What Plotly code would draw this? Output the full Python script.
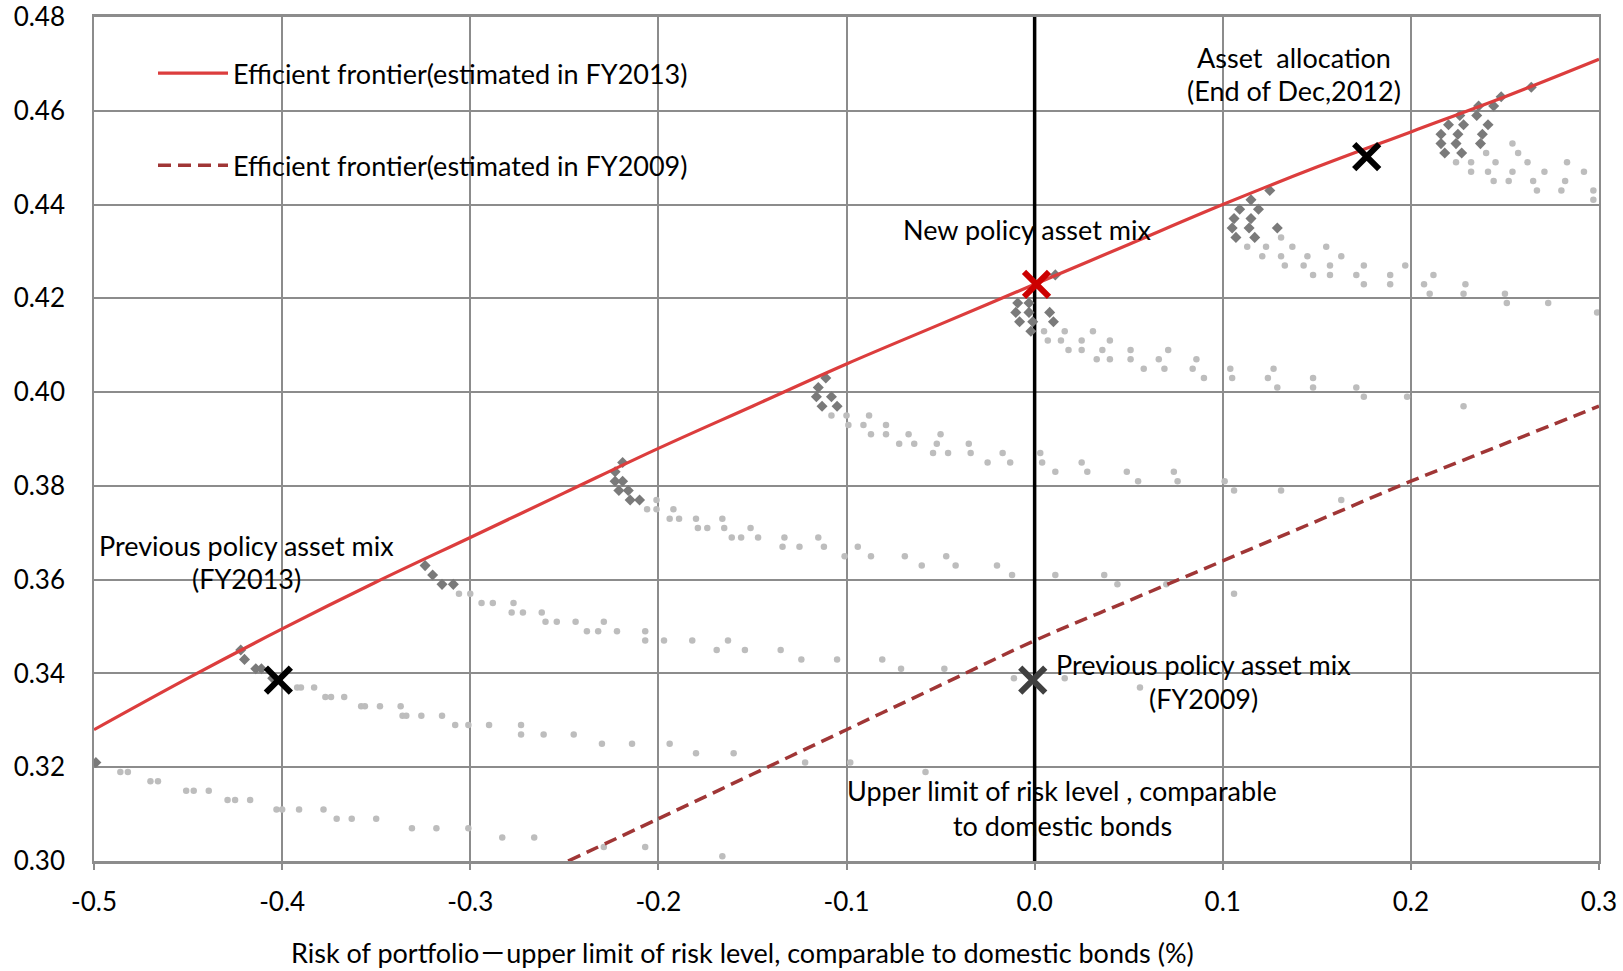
import plotly.graph_objects as go

# ---------------- data ----------------
# Efficient frontier (estimated in FY2013)
fr13_risk = [-0.50, -0.45, -0.40, -0.35, -0.30, -0.25, -0.20, -0.15, -0.10, -0.05,
             0.00, 0.05, 0.10, 0.15, 0.20, 0.25, 0.30]
fr13_ret = [0.328, 0.339, 0.3495, 0.3595, 0.369, 0.3785, 0.388, 0.397, 0.406, 0.4145,
            0.423, 0.4315, 0.440, 0.448, 0.4555, 0.463, 0.471]

# Efficient frontier (estimated in FY2009)
fr09_risk = [-0.248, -0.20, -0.15, -0.10, -0.05, 0.00, 0.05, 0.10, 0.15, 0.20, 0.25, 0.30]
fr09_ret = [0.300, 0.309, 0.3185, 0.328, 0.3375, 0.347, 0.3555, 0.364, 0.3725, 0.381, 0.389, 0.397]

# Simulated portfolios (light grey dots)
light_risk = [
    -0.486, -0.482, -0.470, -0.466, -0.451, -0.447, -0.439, -0.429, -0.425, -0.417,
    -0.403, -0.400, -0.391, -0.378, -0.371, -0.363, -0.350, -0.331, -0.318, -0.301,
    -0.283, -0.266, -0.229, -0.207, -0.166,
    -0.392, -0.390, -0.383, -0.377, -0.374, -0.367, -0.358, -0.356, -0.348, -0.337,
    -0.336, -0.334, -0.326, -0.315, -0.308, -0.301, -0.290, -0.273, -0.273, -0.261,
    -0.245, -0.230, -0.214, -0.194, -0.180, -0.160, -0.122, -0.098, -0.058,
    -0.306, -0.300, -0.294, -0.288, -0.277, -0.278, -0.272, -0.262, -0.260, -0.254,
    -0.244, -0.229, -0.238, -0.232, -0.222, -0.207, -0.207, -0.197, -0.182, -0.163,
    -0.169, -0.154, -0.135, -0.124, -0.105, -0.081, -0.071, -0.048, -0.011, 0.016, 0.056,
    -0.201, -0.206, -0.201, -0.192, -0.194, -0.189, -0.180, -0.166, -0.179, -0.174,
    -0.165, -0.151, -0.161, -0.156, -0.147, -0.133, -0.115, -0.134, -0.125, -0.112,
    -0.094, -0.101, -0.087, -0.069, -0.047, -0.060, -0.042, -0.020, -0.012, 0.011,
    0.037, 0.044, 0.070, 0.106,
    -0.108, -0.100, -0.088, -0.099, -0.091, -0.079, -0.087, -0.079, -0.067, -0.050,
    -0.072, -0.064, -0.052, -0.035, -0.054, -0.046, -0.034, -0.017, 0.003, -0.025,
    -0.013, 0.004, 0.025, 0.011, 0.028, 0.049, 0.074, 0.055, 0.076, 0.101,
    0.106, 0.131, 0.163,
    0.005, 0.016, 0.031, 0.007, 0.014, 0.025, 0.040, 0.018, 0.025, 0.036,
    0.051, 0.071, 0.033, 0.040, 0.051, 0.066, 0.086, 0.058, 0.069, 0.084,
    0.104, 0.127, 0.090, 0.105, 0.124, 0.148, 0.129, 0.148, 0.171, 0.175,
    0.198, 0.228,
    0.131, 0.113, 0.123, 0.137, 0.155, 0.121, 0.131, 0.145, 0.163, 0.133,
    0.143, 0.157, 0.175, 0.197, 0.148, 0.157, 0.171, 0.189, 0.212, 0.175,
    0.189, 0.207, 0.229, 0.210, 0.228, 0.250, 0.251, 0.273, 0.299,
    0.254, 0.240, 0.257, 0.224, 0.232, 0.245, 0.262, 0.283, 0.232, 0.241,
    0.254, 0.271, 0.292, 0.244, 0.252, 0.265, 0.282, 0.267, 0.280, 0.297, 0.297,
]
light_ret = [
    0.319, 0.319, 0.317, 0.317, 0.315, 0.315, 0.315, 0.313, 0.313, 0.313,
    0.311, 0.311, 0.311, 0.311, 0.309, 0.309, 0.309, 0.307, 0.307, 0.307,
    0.305, 0.305, 0.303, 0.303, 0.301,
    0.337, 0.337, 0.337, 0.335, 0.335, 0.335, 0.333, 0.333, 0.333, 0.333,
    0.331, 0.331, 0.331, 0.331, 0.329, 0.329, 0.329, 0.329, 0.327, 0.327,
    0.327, 0.325, 0.325, 0.325, 0.323, 0.323, 0.321, 0.321, 0.319,
    0.357, 0.357, 0.355, 0.355, 0.355, 0.353, 0.353, 0.353, 0.351, 0.351,
    0.351, 0.351, 0.349, 0.349, 0.349, 0.349, 0.347, 0.347, 0.347, 0.347,
    0.345, 0.345, 0.345, 0.343, 0.343, 0.343, 0.341, 0.341, 0.339, 0.339, 0.337,
    0.377, 0.375, 0.375, 0.375, 0.373, 0.373, 0.373, 0.373, 0.371, 0.371,
    0.371, 0.371, 0.369, 0.369, 0.369, 0.369, 0.369, 0.367, 0.367, 0.367,
    0.367, 0.365, 0.365, 0.365, 0.365, 0.363, 0.363, 0.363, 0.361, 0.361,
    0.361, 0.359, 0.359, 0.357,
    0.395, 0.395, 0.395, 0.393, 0.393, 0.393, 0.391, 0.391, 0.391, 0.391,
    0.389, 0.389, 0.389, 0.389, 0.387, 0.387, 0.387, 0.387, 0.387, 0.385,
    0.385, 0.385, 0.385, 0.383, 0.383, 0.383, 0.383, 0.381, 0.381, 0.381,
    0.379, 0.379, 0.377,
    0.413, 0.413, 0.413, 0.411, 0.411, 0.411, 0.411, 0.409, 0.409, 0.409,
    0.409, 0.409, 0.407, 0.407, 0.407, 0.407, 0.407, 0.405, 0.405, 0.405,
    0.405, 0.405, 0.403, 0.403, 0.403, 0.403, 0.401, 0.401, 0.401, 0.399,
    0.399, 0.397,
    0.433, 0.431, 0.431, 0.431, 0.431, 0.429, 0.429, 0.429, 0.429, 0.427,
    0.427, 0.427, 0.427, 0.427, 0.425, 0.425, 0.425, 0.425, 0.425, 0.423,
    0.423, 0.423, 0.423, 0.421, 0.421, 0.421, 0.419, 0.419, 0.417,
    0.453, 0.451, 0.451, 0.449, 0.449, 0.449, 0.449, 0.449, 0.447, 0.447,
    0.447, 0.447, 0.447, 0.445, 0.445, 0.445, 0.445, 0.443, 0.443, 0.443, 0.441,
]

# Portfolios close to the frontier (dark grey diamonds)
eff_risk = [
    -0.499,
    -0.422, -0.420, -0.414, -0.411, -0.405,
    -0.324, -0.320, -0.315, -0.309,
    -0.219, -0.223, -0.223, -0.219, -0.221, -0.216, -0.215, -0.210,
    -0.111, -0.115, -0.116, -0.108, -0.113, -0.105,
    0.011, -0.009, -0.003, -0.010, -0.003, 0.008, -0.008, -0.001, 0.010, -0.002,
    0.125, 0.115, 0.109, 0.119, 0.106, 0.115, 0.105, 0.114, 0.129, 0.107, 0.117,
    0.264, 0.248, 0.236, 0.244, 0.226, 0.235, 0.220, 0.228, 0.241, 0.216, 0.225,
    0.238, 0.216, 0.224, 0.237, 0.218, 0.227,
]
eff_ret = [
    0.321,
    0.345, 0.343, 0.341, 0.341, 0.339,
    0.363, 0.361, 0.359, 0.359,
    0.385, 0.383, 0.381, 0.381, 0.379, 0.379, 0.377, 0.377,
    0.403, 0.401, 0.399, 0.399, 0.397, 0.397,
    0.425, 0.419, 0.419, 0.417, 0.417, 0.417, 0.415, 0.415, 0.415, 0.413,
    0.443, 0.441, 0.439, 0.439, 0.437, 0.437, 0.435, 0.435, 0.435, 0.433, 0.433,
    0.465, 0.463, 0.461, 0.461, 0.459, 0.459, 0.457, 0.457, 0.457, 0.455, 0.455,
    0.455, 0.453, 0.453, 0.453, 0.451, 0.451,
]

# Highlighted asset mixes
new_mix = (0.001, 0.423)
alloc_2012 = (0.1765, 0.4502)
prev_2013 = (-0.402, 0.3386)
prev_2009 = (-0.001, 0.3386)

# Upper limit of risk level (vertical line)
limit_risk = [0.0, 0.0]
limit_ret = [0.30, 0.48]

x_ticks = [-0.5, -0.4, -0.3, -0.2, -0.1, 0.0, 0.1, 0.2, 0.3]
y_ticks = [0.30, 0.32, 0.34, 0.36, 0.38, 0.40, 0.42, 0.44, 0.46, 0.48]

# ---------------- layout helpers ----------------
# The page's body margin is removed (post_script below), so the figure fills
# the 1623x971 window and these are plain screen coordinates.
W, H = 1623, 971
PL, PT, PR, PB = 94, 17, 1599, 861          # plot area on screen
ML, MT, MR, MB = PL, PT, W - PR, H - PB
PW, PH = PR - PL, PB - PT
FONT = "Lato, 'Noto Sans', 'Noto Sans CJK JP', sans-serif"


def px(x):
    return (x - PL) / PW


def py(y):
    return (PB - y) / PH


fig = go.Figure()

fig.add_trace(go.Scatter(x=limit_risk, y=limit_ret, mode="lines",
                         line=dict(color="black", width=3.5), showlegend=False,
                         hoverinfo="skip"))
fig.add_trace(go.Scatter(x=light_risk, y=light_ret, mode="markers",
                         marker=dict(color="#bdbdbd", size=6.5, symbol="circle"),
                         showlegend=False))
fig.add_trace(go.Scatter(x=eff_risk, y=eff_ret, mode="markers",
                         marker=dict(color="#7a7a7a", size=8.5, symbol="diamond"),
                         showlegend=False))
fig.add_trace(go.Scatter(x=fr13_risk, y=fr13_ret, mode="lines", line_shape="spline",
                         line=dict(color="#dc3d3d", width=3.2),
                         name="Efficient frontier(estimated in FY2013)",
                         legendgroup="a", legendrank=1))
fig.add_trace(go.Scatter(x=fr09_risk, y=fr09_ret, mode="lines", line_shape="spline",
                         line=dict(color="#a03636", width=3.5, dash="13px,7px"),
                         name="Efficient frontier(estimated in FY2009)",
                         legendgroup="b", legendrank=2))

for pt, col in [(new_mix, "#cc0000"), (alloc_2012, "black"),
                (prev_2013, "black"), (prev_2009, "#404040")]:
    fig.add_trace(go.Scatter(x=[pt[0]], y=[pt[1]], mode="markers",
                             marker=dict(symbol="x-thin", size=25,
                                         line=dict(color=col, width=6)),
                             showlegend=False))

# ---------------- annotations ----------------
texts = [
    ("New policy asset mix", 1027, 229),
    ("Asset  allocation", 1294, 57),
    ("(End of Dec,2012)", 1294, 90),
    ("Previous policy asset mix", 246, 545),
    ("(FY2013)", 246, 578),
    ("Previous policy asset mix", 1203, 664),
    ("(FY2009)", 1203, 698),
    ("Upper limit of risk level , comparable", 1062, 790),
    ("to domestic bonds", 1062, 825),
]
anns = []
for t, x, y in texts:
    anns.append(dict(text=t, x=px(x), y=py(y), xref="paper", yref="paper",
                     xanchor="center", yanchor="middle", showarrow=False,
                     font=dict(family=FONT, size=27, color="black")))
anns.append(dict(text="Risk of portfolio－upper limit of risk level, comparable to domestic bonds (%)",
                 x=px(742), y=py(952), xref="paper", yref="paper",
                 xanchor="center", yanchor="middle", showarrow=False,
                 font=dict(family=FONT, size=27, color="black")))

grid_col = "#8c8c8c"
fig.update_layout(
    width=W, height=H,
    margin=dict(l=ML, r=MR, t=MT, b=MB, autoexpand=False),
    paper_bgcolor="white", plot_bgcolor="white",
    font=dict(family=FONT, color="black"),
    annotations=anns,
    showlegend=True,
    hovermode=False,
    legend=dict(x=px(153), y=py(49), xanchor="left", yanchor="top",
                bgcolor="rgba(0,0,0,0)", font=dict(family=FONT, size=27),
                itemwidth=70, tracegroupgap=54, traceorder="grouped"),
    xaxis=dict(range=[-0.5, 0.3], tickvals=x_ticks, ticktext=[f"{v:.1f}" for v in x_ticks],
               showgrid=True, gridcolor=grid_col, gridwidth=1.5,
               showline=True, linecolor=grid_col, linewidth=2.5, mirror=True,
               ticks="outside", ticklen=6, tickcolor=grid_col, tickwidth=1.5,
               tickfont=dict(family=FONT, size=26), zeroline=False,
               ticklabelstandoff=10, automargin=False, ticklabeloverflow="allow"),
    yaxis=dict(range=[0.30, 0.48], tickvals=y_ticks, ticktext=[f"{v:.2f}" for v in y_ticks],
               showgrid=True, gridcolor=grid_col, gridwidth=1.5,
               showline=True, linecolor=grid_col, linewidth=1.5, mirror=True,
               ticks="", tickfont=dict(family=FONT, size=26), zeroline=False,
               ticklabelstandoff=22, automargin=False, ticklabeloverflow="allow"),
)

fig.write_html(
    "out.html",
    config={"displayModeBar": False},
    post_script="document.body.style.margin='0';document.body.style.padding='0';"
                "document.documentElement.style.overflow='hidden';",
)
